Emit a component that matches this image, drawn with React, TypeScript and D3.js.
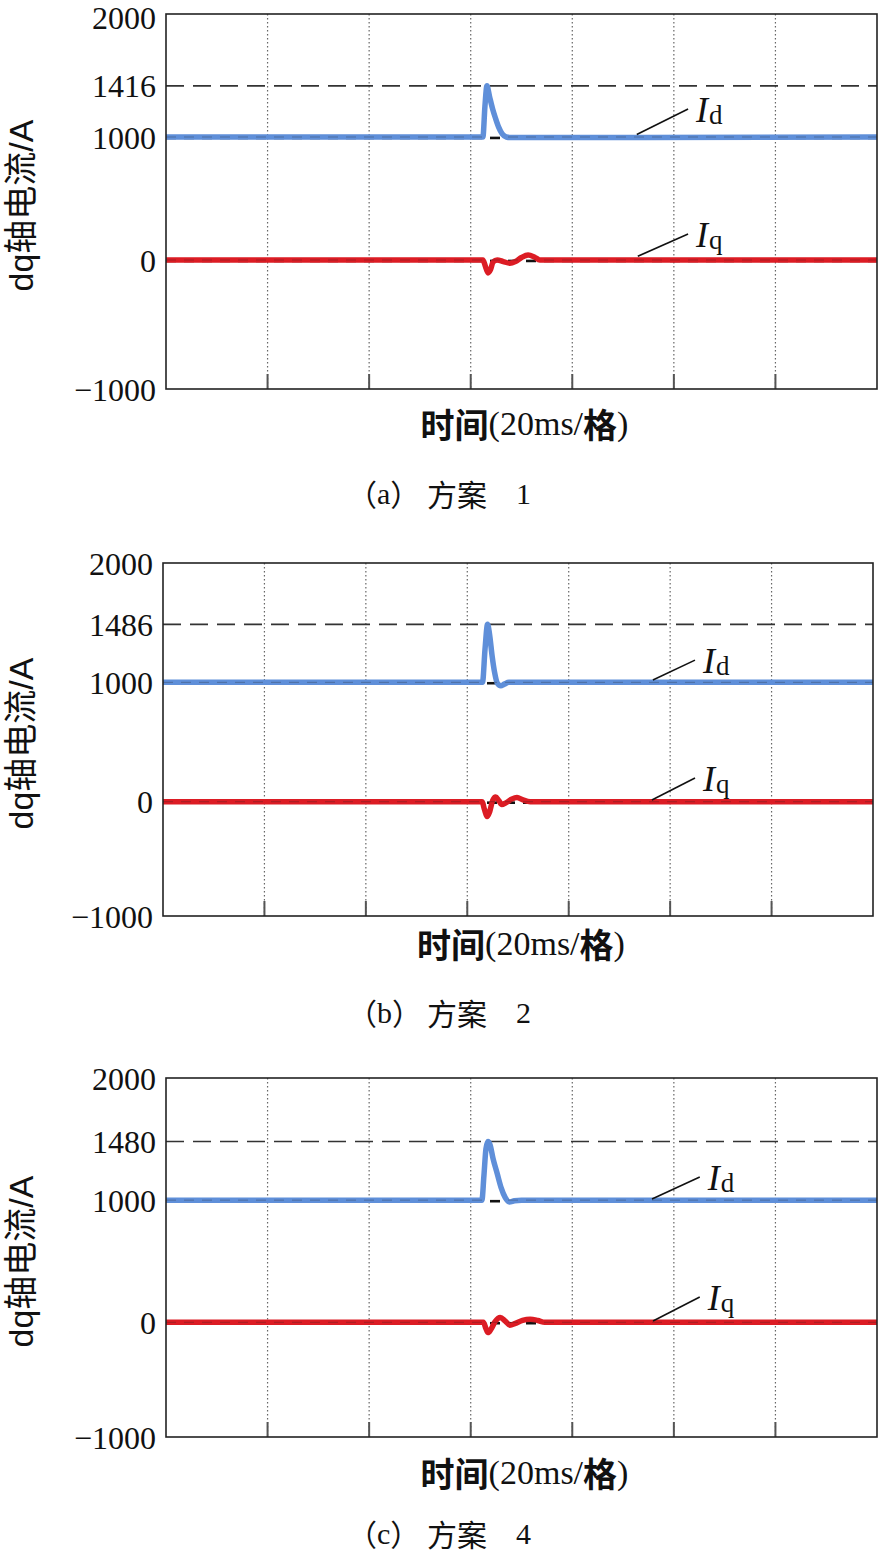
import React from 'react';
import * as d3 from 'd3';

// ---------- data ----------
const TIME_DOMAIN: [number, number] = [0, 140]; // ms, 7 divisions of 20 ms
const GRID_TIMES = [20, 40, 60, 80, 100, 120];
const Y_TICK_BASE = [-1000, 0, 1000, 2000];
const PEAK_VALUES = [1416, 1486, 1480];
const CAPTION_LETTERS = ['a', 'b', 'c'];
const CAPTION_SCHEMES = ['1', '2', '4'];
const Y_LABEL = 'dq轴电流/A';

// Panel (a) 方案 1
const ID_A_T = [0, 62.4, 62.8, 63.2, 63.7, 64.3, 64.9, 65.5, 66.2, 67.0, 68.0, 140];
const ID_A_V = [1000, 1000, 1250, 1416, 1330, 1230, 1150, 1080, 1025, 1000, 995, 1000];
const IQ_A_T = [0, 62.4, 62.9, 63.4, 63.9, 64.4, 65.2, 66.4, 67.7, 68.8, 70.0, 71.3, 72.5, 73.6, 140];
const IQ_A_V = [0, 0, -50, -100, -75, -15, 0, -12, -25, -12, 20, 40, 25, 0, 0];

// Panel (b) 方案 2
const ID_B_T = [0, 63.0, 63.5, 64.0, 64.4, 64.9, 65.4, 65.9, 66.6, 67.3, 68.2, 140];
const ID_B_V = [1000, 1000, 1280, 1486, 1400, 1220, 1080, 995, 972, 985, 1000, 1000];
const IQ_B_T = [0, 62.9, 63.4, 63.9, 64.4, 65.0, 65.6, 66.2, 66.8, 67.6, 68.7, 69.8, 71.0, 72.4, 140];
const IQ_B_V = [0, 0, -70, -130, -90, 10, 40, 10, -25, -10, 20, 35, 15, 0, 0];

// Panel (c) 方案 4
const ID_C_T = [0, 62.2, 62.6, 63.0, 63.4, 63.8, 64.4, 65.2, 66.0, 66.8, 67.6, 68.6, 70.0, 140];
const ID_C_V = [1000, 1000, 1200, 1420, 1480, 1455, 1340, 1220, 1100, 1020, 985, 995, 1000, 1000];
const IQ_C_T = [0, 62.5, 63.0, 63.4, 64.0, 64.8, 65.8, 66.8, 67.7, 68.8, 70.2, 71.7, 73.2, 74.6, 140];
const IQ_C_V = [0, 0, -55, -90, -60, 5, 40, 10, -25, -10, 15, 25, 15, 0, 0];

// annotation leader lines (time ms, value A): start on trace, end near label
const ANN_ID_T0 = [92.7, 96.6, 95.7];
const ANN_ID_V0 = [1020, 1019, 1010];
const ANN_ID_T1 = [102.8, 104.9, 105.1];
const ANN_ID_V1 = [1228, 1186, 1190];
const ANN_IQ_T0 = [92.9, 96.4, 95.9];
const ANN_IQ_V0 = [30, 14, 10];
const ANN_IQ_T1 = [102.8, 104.9, 105.1];
const ANN_IQ_V1 = [211, 198, 207];

// ---------- layout ----------
const LAYOUT = [
  { left: 166, right: 877, top: 14, zeroY: 260, bottom: 389, xLabelY: 423, captionY: 493 },
  { left: 163, right: 873, top: 563, zeroY: 801.7, bottom: 916, xLabelY: 943, captionY: 1012 },
  { left: 166, right: 877, top: 1078, zeroY: 1322.3, bottom: 1437, xLabelY: 1472, captionY: 1533 },
];

const SERIES = [
  { idT: ID_A_T, idV: ID_A_V, iqT: IQ_A_T, iqV: IQ_A_V },
  { idT: ID_B_T, idV: ID_B_V, iqT: IQ_B_T, iqV: IQ_B_V },
  { idT: ID_C_T, idV: ID_C_V, iqT: IQ_C_T, iqV: IQ_C_V },
];

const SERIF = '"Liberation Serif", "Times New Roman", serif';
const CJK = '"Noto Sans CJK SC", sans-serif';
const SANS = '"Liberation Sans", Arial, "Noto Sans CJK SC", sans-serif';
const BLUE = '#5f8fd9';
const RED = '#dc1c24';

function Panel({ i }: { i: number }) {
  const L = LAYOUT[i];
  const S = SERIES[i];
  const peak = PEAK_VALUES[i];
  const x = d3.scaleLinear().domain(TIME_DOMAIN).range([L.left, L.right]);
  const y = d3.scaleLinear().domain([-1000, 0, 2000]).range([L.bottom, L.zeroY, L.top]);
  const line = d3
    .line<[number, number]>()
    .x((d) => x(d[0]))
    .y((d) => y(d[1]))
    .curve(d3.curveMonotoneX);
  const idPts: [number, number][] = S.idT.map((t, k) => [t, S.idV[k]]);
  const iqPts: [number, number][] = S.iqT.map((t, k) => [t, S.iqV[k]]);
  const ticks = [...Y_TICK_BASE, peak];
  const cx = (L.left + L.right) / 2 + 3;

  const ann = [
    { t0: ANN_ID_T0[i], v0: ANN_ID_V0[i], t1: ANN_ID_T1[i], v1: ANN_ID_V1[i], sub: 'd' },
    { t0: ANN_IQ_T0[i], v0: ANN_IQ_V0[i], t1: ANN_IQ_T1[i], v1: ANN_IQ_V1[i], sub: 'q' },
  ];

  return (
    <g>
      {GRID_TIMES.map((t) => (
        <line key={'g' + t} x1={x(t)} x2={x(t)} y1={L.top} y2={L.bottom}
          stroke="#666" strokeWidth={1.2} strokeDasharray="1.5 2.5" />
      ))}
      {GRID_TIMES.map((t) => (
        <line key={'t' + t} x1={x(t)} x2={x(t)} y1={L.bottom} y2={L.bottom - 15}
          stroke="#555" strokeWidth={2} />
      ))}
      <line x1={L.left} x2={L.right} y1={y(peak)} y2={y(peak)} stroke="#333"
        strokeWidth={1.6} strokeDasharray="18 9" />
      {[1000, 0].map((v) => (
        <line key={'r' + v} x1={L.left} x2={L.right} y1={y(v) + 1} y2={y(v) + 1}
          stroke="#111" strokeWidth={2.5} strokeDasharray="10 8" />
      ))}
      <path d={line(idPts) || ''} fill="none" stroke={BLUE} strokeWidth={5.5} strokeLinejoin="round" />
      <path d={line(iqPts) || ''} fill="none" stroke={RED} strokeWidth={5.5} strokeLinejoin="round" />
      {[1000, 0].map((v) => (
        <line key={'ro' + v} x1={L.left} x2={L.right} y1={y(v)} y2={y(v)}
          stroke="#222" strokeOpacity={0.3} strokeWidth={1} strokeDasharray="10 8" />
      ))}
      <rect x={L.left} y={L.top} width={L.right - L.left} height={L.bottom - L.top}
        fill="none" stroke="#222" strokeWidth={1.6} />
      {ticks.map((v) => (
        <text key={'yl' + v} x={L.left - 10} y={y(v) + (v === 2000 && i === 0 ? 3 : 0)} dy="0.36em" textAnchor="end"
          fontFamily={SERIF} fontSize={32} fill="#111">
          {v < 0 ? '\u2212' + Math.abs(v) : String(v)}
        </text>
      ))}
      {ann.map((a, k) => (
        <g key={'a' + k}>
          <line x1={x(a.t0)} y1={y(a.v0)} x2={x(a.t1)} y2={y(a.v1)} stroke="#111" strokeWidth={1.6} />
          <text x={x(a.t1) + 8} y={y(a.v1) + 13} fontFamily={SERIF} fill="#111">
            <tspan fontStyle="italic" fontSize={36}>I</tspan>
            <tspan fontSize={27} dx={1} dy={2}>{a.sub}</tspan>
          </text>
        </g>
      ))}
      <text transform={`translate(21, ${(L.top + L.bottom) / 2 + 4}) rotate(-90)`} textAnchor="middle"
        dominantBaseline="central" fontFamily={SANS} fontSize={34} fill="#111">
        {Y_LABEL}
      </text>
      <text x={cx} y={L.xLabelY} textAnchor="middle" dominantBaseline="central" fontSize={34} fill="#111">
        <tspan fontFamily={CJK} fontWeight={700}>时间</tspan>
        <tspan fontFamily={SERIF}>(20ms/</tspan>
        <tspan fontFamily={CJK} fontWeight={700}>格</tspan>
        <tspan fontFamily={SERIF}>)</tspan>
      </text>
      <text y={L.captionY} dominantBaseline="central" fontSize={30} fill="#111">
        <tspan x={347} fontFamily={CJK}>（</tspan>
        <tspan fontFamily={SERIF}>{CAPTION_LETTERS[i]}</tspan>
        <tspan fontFamily={CJK}>）</tspan>
        <tspan x={427} fontFamily={CJK}>方案</tspan>
        <tspan x={516} fontFamily={SERIF}>{CAPTION_SCHEMES[i]}</tspan>
      </text>
    </g>
  );
}

export default function App() {
  return (
    <svg width={880} height={1555} viewBox="0 0 880 1555"
      style={{ position: 'absolute', left: 0, top: 0, background: '#fff' }}>
      <rect width={880} height={1555} fill="#fff" />
      {[0, 1, 2].map((i) => (
        <Panel key={i} i={i} />
      ))}
    </svg>
  );
}
